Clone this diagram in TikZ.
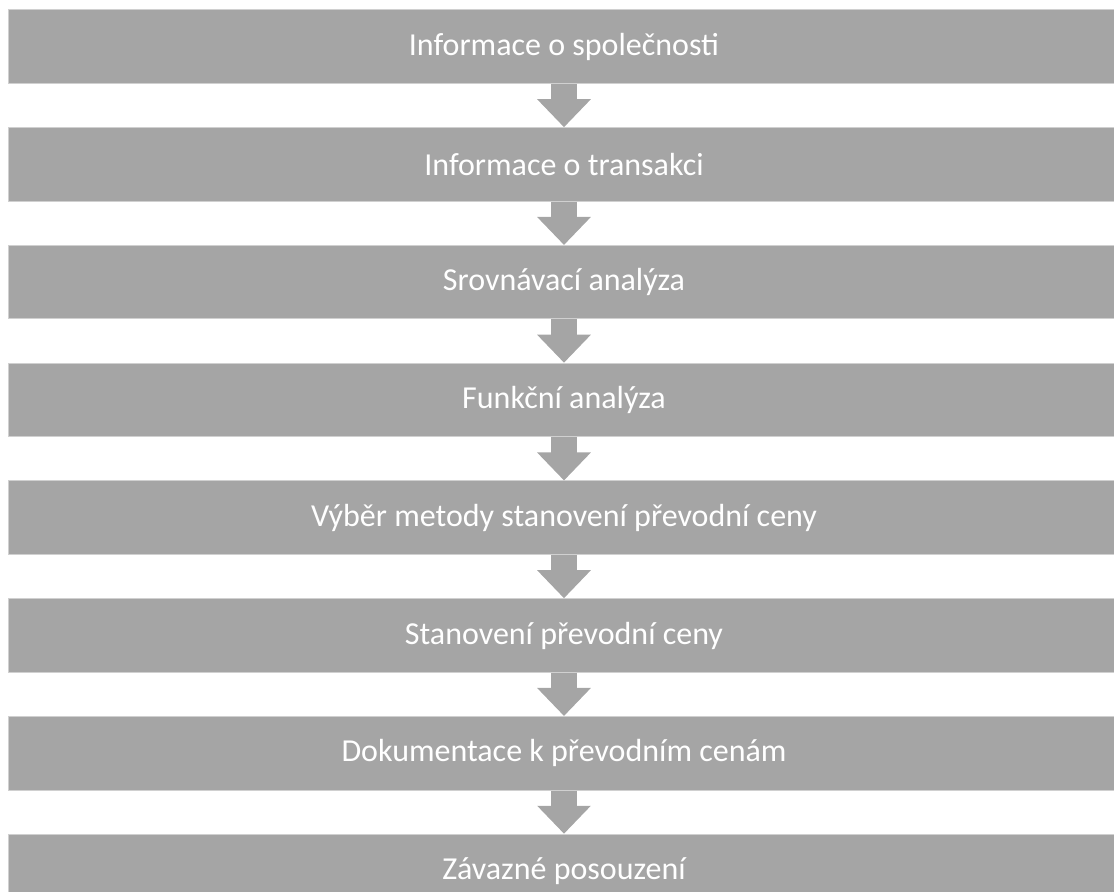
\documentclass[tikz,border=0pt]{standalone}
\usepackage{fontspec}
\setmainfont{Carlito}
\usetikzlibrary{arrows.meta, positioning}
\definecolor{StepGray}{HTML}{A5A5A5}
\definecolor{EdgeGray}{HTML}{D0D0D0}

\tikzset{
  stage/.style={fill=StepGray, draw=EdgeGray, line width=0.5pt,
    minimum width=556pt, minimum height=36.75pt, inner sep=0pt,
    text=white, font=\fontsize{16}{19}\selectfont},
  flow/.style={draw=StepGray, line width=13pt,
    -{Triangle[width=26pt, length=14pt]}}
}

\begin{document}
\begin{tikzpicture}[node distance=21.625pt]
        \useasboundingbox (0,0) rectangle (557pt,-446pt);
        \node[stage] (info) at (282pt,-23.375pt) {Informace o společnosti};
        \node[stage, below=of info] (trans) {Informace o transakci};
        \node[stage, below=of trans] (comp) {Srovnávací analýza};
        \node[stage, below=of comp] (func) {Funkční analýza};
        \node[stage, below=of func] (method) {Výběr metody stanovení převodní ceny};
        \node[stage, below=of method] (price) {Stanovení převodní ceny};
        \node[stage, below=of price] (docs) {Dokumentace k převodním cenám};
        \node[stage, below=of docs] (ruling) {Závazné posouzení};

        % arrows between the steps
        \foreach \a/\b in {info/trans, trans/comp, comp/func, func/method,
                           method/price, price/docs, docs/ruling}
          \draw[flow] (\a.south) -- (\b.north);
      \end{tikzpicture}
\end{document}
